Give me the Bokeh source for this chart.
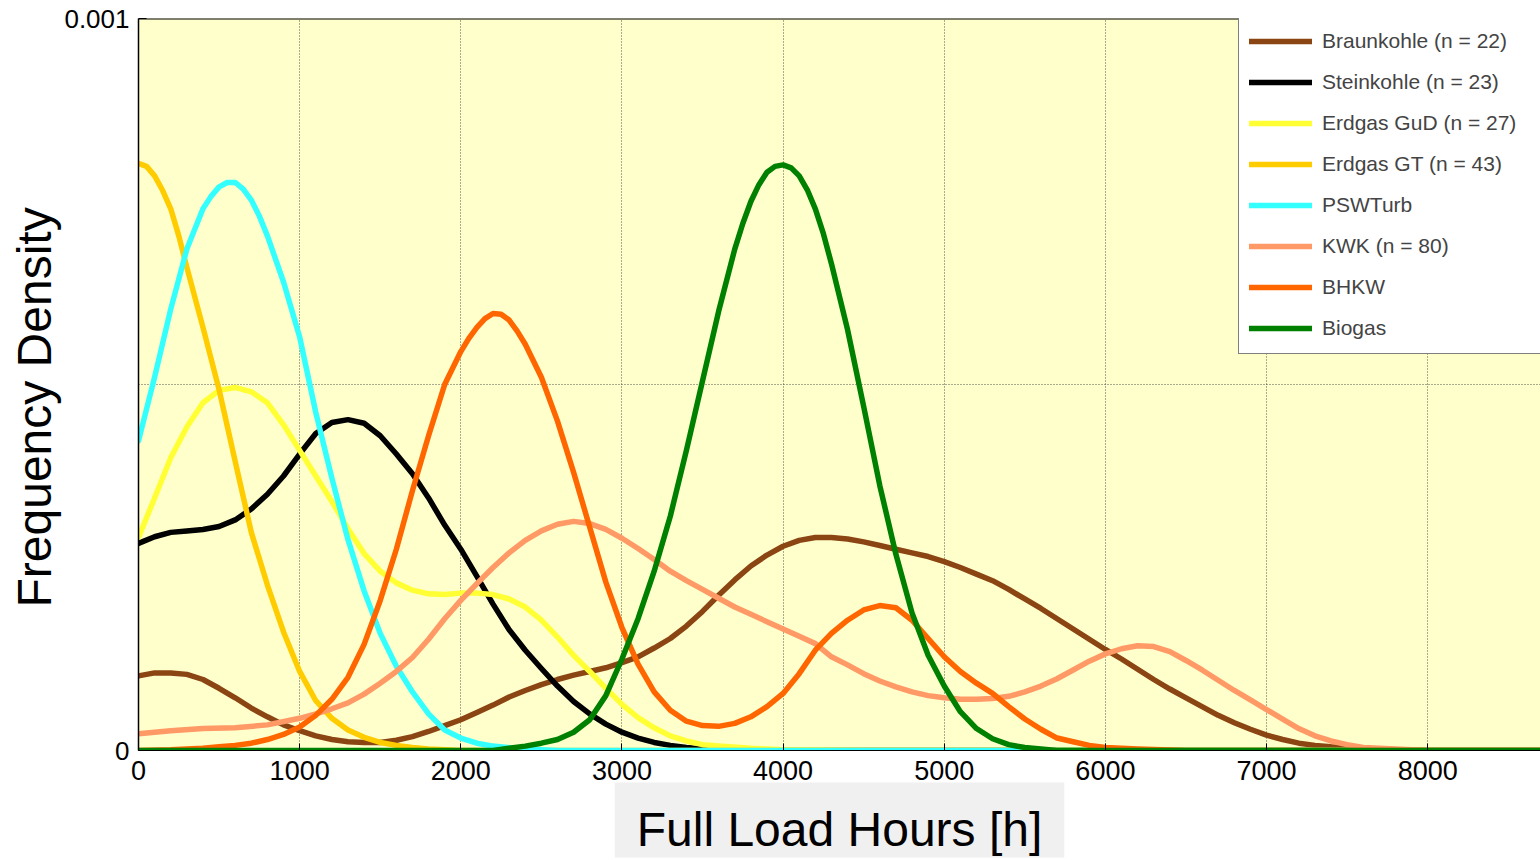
from bokeh.plotting import figure
from bokeh.models import FixedTicker, Legend, LegendItem, Range1d, Span, Title
from bokeh.embed import file_html
from bokeh.resources import INLINE

# Estimated frequency densities of annual full load hours per plant type.
# Densities are listed in units of 1e-6 per hour.
DENSITY_UNIT = 1e-6

braunkohle_hours = list(range(0, 7500, 100)) + [7600, 7800, 8000, 8760]
braunkohle_density = [
    102, 106, 106, 104, 97, 85, 72, 58, 46, 35,
    27, 20, 15, 12, 11, 11, 14, 19, 26, 34,
    42, 52, 62, 73, 82, 90, 97, 103, 108, 113,
    120, 128, 140, 153, 170, 190, 212, 233, 252, 267,
    279, 287, 291, 291, 289, 285, 280, 275, 270, 265,
    258, 250, 241, 232, 220, 207, 194, 180, 166, 152,
    138, 125, 111, 97, 84, 72, 60, 48, 38, 29,
    21, 15, 10, 7, 5,
    2, 1, 0, 0,
]

steinkohle_hours = list(range(0, 3600, 100)) + [3700, 4000, 8760]
steinkohle_density = [
    283, 292, 298, 300, 302, 306, 315, 330, 350, 375,
    405, 433, 448, 452, 447, 430, 405, 378, 345, 308,
    275, 238, 200, 165, 137, 112, 88, 67, 50, 36,
    25, 17, 11, 7, 4, 2,
    1, 0, 0,
]

gud_hours = list(range(0, 3700, 100)) + [3800, 4000, 4500, 8760]
gud_density = [
    291, 345, 400, 442, 475, 492, 496, 490, 475, 445,
    410, 375, 340, 303, 269, 245, 229, 219, 214, 213,
    215, 215, 213, 207, 196, 178, 155, 130, 108, 85,
    63, 45, 31, 20, 13, 8, 6,
    3, 1, 0, 0,
]

gt_hours = list(range(0, 300, 50)) + list(range(300, 1900, 100)) + [2000, 8760]
gt_density = [
    802, 798, 785, 765, 740, 703,
    660, 578, 493, 395, 298, 226, 162, 108, 68, 44,
    28, 18, 11, 7, 4, 2,
    0, 0,
]

psw_hours = (list(range(0, 400, 100)) + list(range(400, 800, 50))
             + list(range(800, 2300, 100)) + [2400, 2600, 8760])
psw_density = [
    423, 510, 603, 685,
    740, 757, 770, 776, 776, 767, 752, 730,
    703, 640, 565, 462, 372, 288, 218, 160, 115, 80,
    50, 28, 17, 10, 6,
    2, 0, 0,
]

kwk_hours = [0, 200, 400, 600, 800] + list(range(1000, 7700, 100)) + [7800, 8000, 8760]
kwk_density = [
    23, 27, 30, 31, 35,
    44, 50, 57, 65, 77, 92, 108, 127, 152, 180,
    205, 228, 250, 270, 287, 300, 309, 313, 310, 302,
    290, 276, 261, 245, 232, 220, 208, 196, 186, 176,
    166, 156, 146, 128, 117, 105, 95, 87, 80, 75,
    72, 70, 70, 71, 74, 80, 88, 98, 110, 122,
    132, 139, 143, 142, 135, 123, 110, 96, 82, 69,
    56, 43, 30, 20, 13, 8, 4,
    2, 0, 0,
]

bhkw_hours = ([0, 200, 400] + list(range(500, 2000, 100)) + list(range(2000, 2400, 50))
              + list(range(2400, 6100, 100)) + [6200, 6500, 8760])
bhkw_density = [
    0, 1, 3,
    5, 7, 10, 15, 22, 32, 48, 70, 100, 145, 205, 275, 355, 430, 500,
    545, 563, 578, 590, 597, 596, 588, 573,
    555, 510, 450, 380, 305, 230, 168, 118, 80, 55,
    40, 34, 33, 37, 46, 60, 78, 105, 137, 160,
    178, 192, 198, 195, 178, 153, 128, 108, 92, 78,
    60, 43, 29, 17, 12, 7, 4,
    2, 0, 0,
]

biogas_hours = ([0, 2200] + list(range(2300, 3700, 100)) + list(range(3700, 4300, 50))
                + list(range(4300, 5700, 100)) + [5700, 8760])
biogas_density = [
    0, 0,
    3, 6, 10, 15, 25, 42, 75, 125, 180, 245, 320, 410, 505, 600,
    685, 720, 750, 773, 790, 798, 800, 796, 785, 766, 740, 706,
    665, 575, 470, 362, 268, 188, 130, 88, 53, 30, 16, 8, 4, 2,
    0, 0,
]

series = [
    ("Braunkohle (n = 22)", braunkohle_hours, braunkohle_density, "#8B4513"),
    ("Steinkohle (n = 23)", steinkohle_hours, steinkohle_density, "#000000"),
    ("Erdgas GuD (n = 27)", gud_hours, gud_density, "#FFFF33"),
    ("Erdgas GT (n = 43)", gt_hours, gt_density, "#FFCC00"),
    ("PSWTurb", psw_hours, psw_density, "#33FFFF"),
    ("KWK (n = 80)", kwk_hours, kwk_density, "#FF9966"),
    ("BHKW", bhkw_hours, bhkw_density, "#FF6600"),
    ("Biogas", biogas_hours, biogas_density, "#008000"),
]

x_ticks = [0, 1000, 2000, 3000, 4000, 5000, 6000, 7000, 8000]
y_ticks = [0, 0.001]
y_grid = [0.0005]

FONT = "Liberation Sans"

p = figure(width=1540, height=860, output_backend="svg", toolbar_location=None,
           x_range=Range1d(0, 8700), y_range=Range1d(0, 0.001),
           min_border_left=138, min_border_right=0,
           min_border_top=18, min_border_bottom=110)
p.background_fill_color = "#FFFFCC"
p.border_fill_color = "white"
p.outline_line_color = None

# axes
for ax in p.xaxis:
    ax.ticker = FixedTicker(ticks=x_ticks)
    ax.major_label_text_font = FONT
    ax.major_label_text_font_size = "27px"
    ax.major_label_text_color = "black"
    ax.major_label_standoff = 10
    ax.major_tick_in = 7
    ax.major_tick_out = 0
    ax.minor_tick_line_color = None
    ax.axis_line_color = "black"

for ax in p.yaxis:
    ax.ticker = FixedTicker(ticks=y_ticks)
    ax.major_label_overrides = {0: "0", 0.001: "0.001"}
    ax.major_label_text_font = FONT
    ax.major_label_text_font_size = "26px"
    ax.major_label_text_color = "black"
    ax.major_label_standoff = 9
    ax.major_tick_in = 8
    ax.major_tick_out = 0
    ax.minor_tick_line_color = None
    ax.axis_line_color = "black"
    ax.axis_line_width = 1.5

# upper edge of the axes box
p.add_layout(Span(location=0.001, dimension="width", line_color="black", line_width=2))

p.xgrid.ticker = FixedTicker(ticks=x_ticks[1:])
p.ygrid.ticker = FixedTicker(ticks=y_grid)
for g in (p.xgrid, p.ygrid):
    g.grid_line_color = "#444444"
    g.grid_line_dash = "1 2"
    g.grid_line_width = 1
    g.grid_line_alpha = 0.9

items = []
for name, hours, dens, color in series:
    r = p.line(hours, [d * DENSITY_UNIT for d in dens],
               line_color=color, line_width=5.5, line_join="round", line_cap="round")
    items.append(LegendItem(label=name, renderers=[r]))

legend = Legend(items=items, location=(1100, 396),
                border_line_color="black", border_line_width=1,
                background_fill_color="white", background_fill_alpha=1,
                label_text_font=FONT, label_text_font_size="21px",
                glyph_width=63, glyph_height=30, label_height=30,
                label_width=230, label_standoff=10, spacing=11,
                padding=10, margin=0)
p.add_layout(legend)

xtitle = Title(text="Full Load Hours [h]", align="center", vertical_align="top",
               text_font=FONT, text_font_size="48px", text_font_style="normal",
               text_color="black", background_fill_color="#F0F0F0",
               padding=dict(left=22, right=22, top=20, bottom=2), standoff=0)
p.add_layout(xtitle, "below")

ytitle = Title(text="Frequency Density", align="left", offset=143,
               vertical_align="middle",
               text_font=FONT, text_font_size="48px", text_font_style="normal",
               text_color="black", standoff=0)
p.add_layout(ytitle, "left")

open("out.html", "w").write(file_html(p, INLINE))
